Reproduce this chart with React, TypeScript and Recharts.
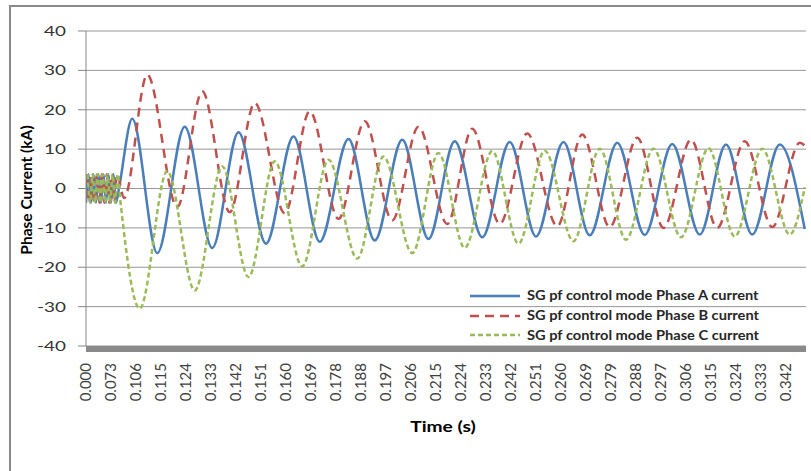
import { LineChart, Line, XAxis, YAxis, CartesianGrid, Legend } from "recharts";

// Excel-style category axis: one time label every 20 samples
const SAMPLES_PER_LABEL = 20;

const TIME_LABELS = [
  "0.000", "0.073", "0.106", "0.115", "0.124", "0.133", "0.142", "0.151",
  "0.160", "0.169", "0.178", "0.188", "0.197", "0.206", "0.215", "0.224",
  "0.233", "0.242", "0.251", "0.260", "0.269", "0.279", "0.288", "0.297",
  "0.306", "0.315", "0.324", "0.333", "0.342",
];

const Y_TICKS = [-40, -30, -20, -10, 0, 10, 20, 30, 40];

// [sample, kA] — peaks / troughs
const PHASE_A: [number, number][] = [
  [0, -3.6], [2, 3.6], [4, -3.6], [6, 3.6], [8, -3.6], [10, 3.6], [12, -3.6],
  [14, 3.6], [16, -3.6], [18, 3.6], [20, -3.6], [22, 3.6], [24, -3.6], [26.5, 0.3],
  [37, 17.7], [57, -16.4], [79, 15.7], [101, -15.1], [122, 14.3], [144, -14.0],
  [166, 13.2], [187, -13.5], [210, 12.6], [231, -13.2], [253, 12.4], [274, -12.8],
  [295, 12.0], [317, -12.4], [339, 11.8], [360, -12.2], [382, 11.8], [403, -11.9],
  [425, 11.6], [447, -11.8], [469, 11.3], [491, -11.7], [512, 11.2], [533, -11.7],
  [555, 11.2], [575, -10.3],
];

const PHASE_B: [number, number][] = [
  [0.7, 3.6], [2.7, -3.6], [4.7, 3.6], [6.7, -3.6], [8.7, 3.6], [10.7, -3.6],
  [12.7, 3.6], [14.7, -3.6], [16.7, 3.6], [18.7, -3.6], [20.7, 3.6], [22.7, -3.6],
  [24.7, 3.6], [30.5, -2.4],
  [49, 28.9], [73, -4.7], [93, 24.7], [115, -6.0], [135, 21.7], [159, -6.3],
  [179, 19.6], [202, -7.7], [223, 17.1], [245, -8.1], [266, 15.7], [289, -9.0],
  [309, 15.2], [331, -9.0], [353, 14.0], [377, -9.6], [397, 13.7], [419, -9.8],
  [441, 12.9], [462, -10.0], [484, 12.4], [505, -10.0], [527, 12.0], [549, -9.8],
  [571, 11.6], [576, 10.6],
];

const PHASE_C: [number, number][] = [
  [1.3, 3.6], [3.3, -3.6], [5.3, 3.6], [7.3, -3.6], [9.3, 3.6], [11.3, -3.6],
  [13.3, 3.6], [15.3, -3.6], [17.3, 3.6], [19.3, -3.6], [21.3, 3.6], [23.3, -3.6],
  [25.3, 3.6], [27.8, -4.0],
  [43, -30.5], [65, 4.4], [87, -25.9], [109, 5.6], [130, -22.5], [151, 6.9],
  [173, -19.8], [194, 7.3], [217, -17.8], [238, 8.1], [261, -16.4], [282, 9.0],
  [303, -15.1], [325, 9.5], [346, -14.0], [367, 9.6], [390, -13.4], [411, 10.1],
  [432, -13.0], [454, 10.1], [476, -12.4], [498, 10.2], [519, -12.2], [541, 10.1],
  [563, -11.7], [575, 0.3],
];

const SERIES = [
  { name: "SG pf control mode Phase A current", color: "#4A7EBB", dash: undefined, points: PHASE_A },
  { name: "SG pf control mode Phase B current", color: "#C0504D", dash: "9 6", points: PHASE_B },
  { name: "SG pf control mode Phase C current", color: "#9BBB59", dash: "5 3", points: PHASE_C },
];

const toRows = (pts: [number, number][]) => pts.map(([n, v]) => ({ n, v }));

const FONT = "Lato, 'Open Sans', sans-serif";

function YTick({ x, y, payload }: any) {
  return (
    <text
      transform={`translate(${x},${y}) scale(1.35,1)`}
      textAnchor="end"
      dy="0.35em"
      fontSize={14}
      fontFamily={FONT}
      fill="#333"
    >
      {payload.value}
    </text>
  );
}

function XTick({ x, y, payload }: any) {
  return (
    <text
      transform={`translate(${x},${y}) rotate(-90)`}
      textAnchor="end"
      dy="0.35em"
      fontSize={15}
      fontFamily={FONT}
      fill="#404040"
    >
      {TIME_LABELS[Math.round(payload.value / SAMPLES_PER_LABEL)]}
    </text>
  );
}

function LegendBox() {
  return (
    <div style={{ fontFamily: FONT, fontSize: 12.5, fontWeight: 700, color: "#262626" }}>
      {SERIES.map((s) => (
        <div key={s.name} style={{ display: "flex", alignItems: "center", height: 19.7 }}>
          <svg width={52} height={6} style={{ display: "block" }}>
            <line x1={1} y1={3} x2={51} y2={3} stroke={s.color} strokeWidth={2.5} strokeDasharray={s.dash} />
          </svg>
          <span
            style={{
              marginLeft: 6,
              whiteSpace: "nowrap",
              display: "inline-block",
              transform: "scaleX(1.17)",
              transformOrigin: "left center",
            }}
          >
            {s.name}
          </span>
        </div>
      ))}
    </div>
  );
}

export default function App() {
  const ticks = TIME_LABELS.map((_, i) => i * SAMPLES_PER_LABEL);
  return (
    <div
      style={{
        position: "absolute",
        left: 0,
        top: 0,
        width: 811,
        height: 471,
        overflow: "hidden",
        background: "#fff",
      }}
    >
      <div
        style={{
          position: "absolute",
          left: 9,
          top: 5,
          width: 900,
          height: 600,
          border: "2px solid #8a8a8a",
        }}
      />
      <LineChart
        width={811}
        height={471}
        margin={{ top: 31, right: 5, bottom: 0, left: 0 }}
        style={{ position: "absolute", left: 0, top: 0 }}
      >
        <CartesianGrid vertical={false} stroke="#969696" />
        <XAxis
          type="number"
          dataKey="n"
          domain={[0, 576]}
          ticks={ticks}
          interval={0}
          height={125}
          tickLine={false}
          tickSize={0}
          tickMargin={17}
          tick={<XTick />}
          axisLine={{ stroke: "#8a8a8a", strokeWidth: 6, transform: "translate(0,3)" }}
          allowDataOverflow
        />
        <YAxis
          type="number"
          domain={[-40, 40]}
          ticks={Y_TICKS}
          interval={0}
          width={86}
          tickSize={8}
          tickMargin={12}
          tick={<YTick />}
          axisLine={{ stroke: "#868686" }}
          tickLine={{ stroke: "#868686" }}
        />
        <Legend
          layout="vertical"
          align="center"
          verticalAlign="middle"
          content={<LegendBox />}
          wrapperStyle={{ left: 469, top: 286, width: 340 }}
        />
        {SERIES.map((s) => (
          <Line
            key={s.name}
            name={s.name}
            data={toRows(s.points)}
            dataKey="v"
            type="monotone"
            stroke={s.color}
            strokeWidth={2.5}
            strokeDasharray={s.dash}
            dot={false}
            activeDot={false}
            isAnimationActive={false}
          />
        ))}
      </LineChart>
      <div
        style={{
          position: "absolute",
          left: 26,
          top: 190,
          transform: "translate(-50%,-50%) rotate(-90deg)",
          fontFamily: FONT,
          fontSize: 15.5,
          fontWeight: 700,
          whiteSpace: "nowrap",
          color: "#000",
        }}
      >
        Phase Current (kA)
      </div>
      <div
        style={{
          position: "absolute",
          left: 443,
          top: 425,
          transform: "translate(-50%,-50%) scaleX(1.2)",
          fontFamily: FONT,
          fontSize: 16,
          fontWeight: 700,
          whiteSpace: "nowrap",
          color: "#000",
        }}
      >
        Time (s)
      </div>
    </div>
  );
}
